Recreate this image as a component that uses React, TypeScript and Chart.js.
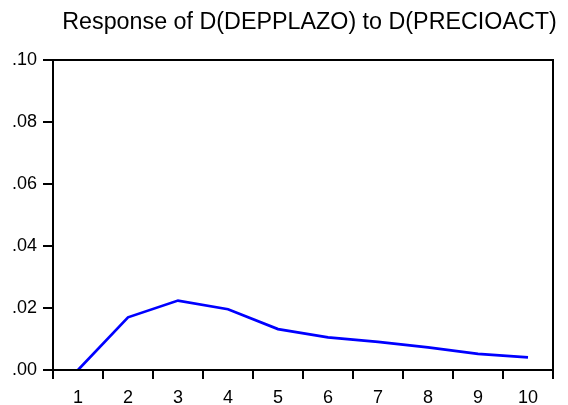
import React, { useEffect, useRef } from "react";
import { Chart, registerables } from "chart.js";

Chart.register(...registerables);

const categories = ["1", "2", "3", "4", "5", "6", "7", "8", "9", "10"];
const responseValues = [0.0, 0.017, 0.0224, 0.0196, 0.0132, 0.0105, 0.0091, 0.0073, 0.0052, 0.0041];
const titleText = "Response of D(DEPPLAZO) to D(PRECIOACT)";

const FONT = "Arial, 'Liberation Sans', sans-serif";

const framePlugin = {
  id: "frame",
  afterDatasetsDraw(chart: any) {
    const { ctx, chartArea } = chart;
    ctx.save();
    ctx.strokeStyle = "#000";
    ctx.lineWidth = 2;
    ctx.strokeRect(chartArea.left, chartArea.top, chartArea.right - chartArea.left, chartArea.bottom - chartArea.top);
    ctx.restore();
  },
};

const titlePlugin = {
  id: "customTitle",
  afterDraw(chart: any) {
    const { ctx, chartArea } = chart;
    ctx.save();
    ctx.fillStyle = "#000";
    ctx.font = `23.3px ${FONT}`;
    ctx.textAlign = "center";
    ctx.textBaseline = "middle";
    ctx.fillText(titleText, (chartArea.left + chartArea.right) / 2 + 6.5, 23);
    ctx.restore();
  },
};

export default function App() {
  const ref = useRef<HTMLCanvasElement>(null);
  useEffect(() => {
    document.body.style.margin = "0";
    const chart = new Chart(ref.current!, {
      type: "line",
      data: {
        labels: categories,
        datasets: [
          {
            data: responseValues,
            borderColor: "#0000FF",
            borderWidth: 2.7,
            pointRadius: 0,
            tension: 0,
            fill: false,
          },
        ],
      },
      options: {
        responsive: false,
        animation: false,
        layout: { padding: { left: 0, right: 15, top: 60, bottom: 0 } },
        plugins: {
          legend: { display: false },
          tooltip: { enabled: false },
          title: { display: false },
        },
        scales: {
          x: {
            type: "category",
            offset: true,
            border: { display: false },
            grid: { offset: true, drawOnChartArea: false, drawTicks: true, tickLength: 9, color: "#000", lineWidth: 2 },
            ticks: { color: "#000", font: { family: FONT, size: 18 }, padding: 8, maxRotation: 0, autoSkip: false },
            afterFit(scale: any) {
              scale.height = 35;
            },
          },
          y: {
            min: 0,
            max: 0.1,
            border: { display: false },
            grid: { drawOnChartArea: false, drawTicks: true, tickLength: 10, color: "#000", lineWidth: 2 },
            ticks: {
              stepSize: 0.02,
              color: "#000",
              font: { family: FONT, size: 18 },
              padding: 6,
              callback: (v: any) => Number(v).toFixed(2).replace(/^0/, ""),
            },
            afterFit(scale: any) {
              scale.width = 53;
            },
          },
        },
      },
      plugins: [framePlugin, titlePlugin],
    });
    return () => chart.destroy();
  }, []);
  return (
    <div style={{ position: "absolute", left: 0, top: 0, width: 568, height: 405, background: "#fff" }}>
      <canvas ref={ref} width={568} height={405} />
    </div>
  );
}
